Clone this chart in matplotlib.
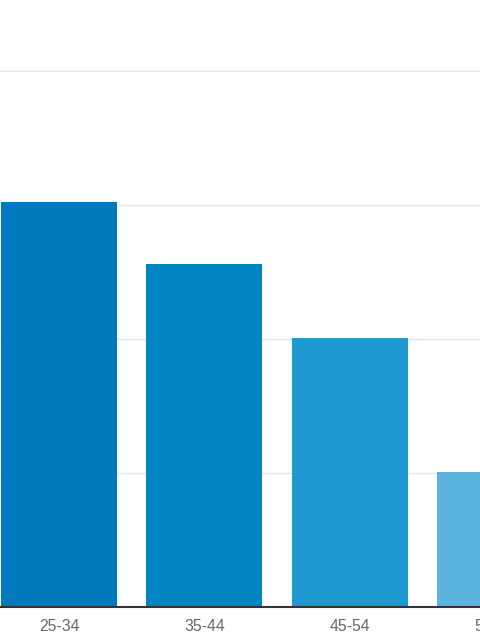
import matplotlib.pyplot as plt
import numpy as np

# Data
ages = ["25-34", "35-44", "45-54", "55-64"]
share = [30.2, 25.6, 20.1, 10.05]
colors = ["#0179bd", "#0286c3", "#1e9ad0", "#5ab4de"]
grid_vals = [10, 20, 30, 40]

plt.rcParams['font.family'] = ['Liberation Sans', 'DejaVu Sans']

fig = plt.figure(figsize=(4.8, 6.4), dpi=100)
ax = fig.add_axes([0, 0.0516, 1, 0.9484])

x = np.arange(len(ages))
ax.bar(x, share, width=0.8, color=colors, zorder=2)

ax.set_yticks(grid_vals)
ax.yaxis.grid(True, color="#e6e6e6", linewidth=1, zorder=0)
ax.tick_params(axis='y', left=False, labelleft=False)
ax.set_xticks([])

# category labels as annotations so the last one can run off the edge
for xi, lbl in zip(x, ages):
    ax.annotate(lbl, xy=(xi, 0), xycoords=('data', 'axes fraction'),
                xytext=(0, -8.5), textcoords='offset points',
                ha='center', va='top', fontsize=11.3, color="#666666",
                annotation_clip=False)

ax.set_xlim(-0.406, 2.897)
ax.set_ylim(0, 45.3)

for s in ["top", "right", "left"]:
    ax.spines[s].set_visible(False)
ax.spines["bottom"].set_color("#333333")
ax.spines["bottom"].set_linewidth(1.5)
ax.spines["bottom"].set_zorder(3)

fig.savefig("out.png", dpi=100)
